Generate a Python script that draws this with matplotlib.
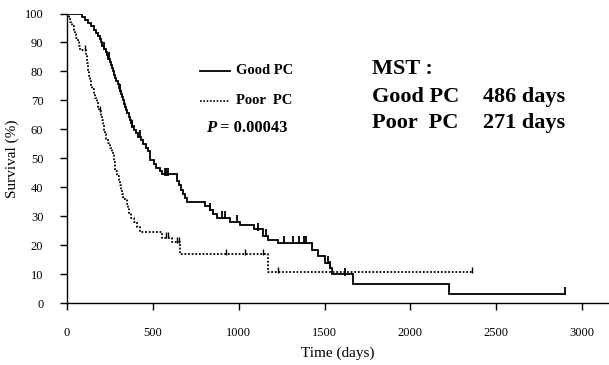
import numpy as np
import matplotlib
matplotlib.use("Agg")
import matplotlib.pyplot as plt
from matplotlib.lines import Line2D

plt.rcParams['font.family'] = ['Liberation Serif', 'DejaVu Serif']

# ---- data ----
good_t = [0, 88, 105, 120, 140, 160, 170, 180, 190, 200, 205, 215, 225, 232, 240, 248, 255,
          262, 268, 275, 282, 288, 295, 300, 308, 315, 320, 327, 333, 340, 346, 352, 360,
          366, 372, 380, 392, 404, 416, 430, 445, 460, 472, 486, 505, 520, 540, 555,
          640, 650, 662, 676, 690, 700, 805, 833, 850, 874, 949, 1010, 1090, 1141, 1170,
          1229, 1427, 1462, 1503, 1532, 1543, 1666, 2225, 2900]
good_s = [100, 98.9, 97.8, 96.7, 95.6, 94.4, 93.3, 92.2, 91.1, 90.0, 88.9, 87.8, 86.7, 85.6,
          84.4, 83.3, 82.2, 81.1, 80.0, 78.9, 77.8, 76.7, 75.6, 74.4, 73.3, 72.2, 71.1, 70.0,
          68.9, 67.8, 66.7, 65.6, 64.4, 63.3, 62.2, 61.0, 59.8, 58.6, 57.4, 56.2, 55.0, 53.7,
          52.5, 49.4, 48.1, 46.8, 45.5, 44.4, 42.0, 40.6, 39.2, 37.8, 36.4, 35.0, 33.6, 32.2,
          30.8, 29.4, 28.0, 26.9, 25.5, 23.2, 21.9, 20.8, 18.4, 16.3, 13.9, 12.2, 9.9, 6.5,
          3.2, 3.2]
good_cens = [215, 245, 308, 380, 425, 570, 578, 586, 833, 902, 920, 990, 1112, 1159, 1264,
             1316, 1351, 1380, 1392, 1520, 1532, 1619, 2900]

poor_t = [0, 10, 20, 30, 40, 47, 55, 62, 70, 76, 112, 116, 118, 120, 124, 128, 132, 140, 146,
          155, 163, 172, 180, 186, 200, 205, 210, 215, 222, 230, 240, 250, 262, 271, 278, 280,
          290, 300, 309, 315, 320, 325, 349, 355, 361, 375, 390, 408, 425, 555, 610, 660,
          1170, 2360]
poor_s = [100, 98.6, 97.2, 95.8, 94.4, 93.0, 91.5, 90.1, 88.7, 87.3, 85.8, 84.3, 82.8, 81.3,
          79.8, 78.3, 76.8, 75.3, 73.8, 72.3, 70.8, 69.3, 67.8, 66.3, 64.7, 63.1, 61.5, 59.9,
          58.3, 56.7, 55.1, 53.5, 51.9, 48.7, 47.1, 45.5, 43.9, 42.3, 40.7, 39.1, 37.5, 35.9,
          34.3, 32.7, 31.1, 29.5, 27.9, 26.3, 24.5, 22.6, 21.0, 16.8, 10.6, 10.6]
poor_cens = [105, 192, 575, 590, 640, 650, 926, 1037, 1142, 1228, 2360]

x_ticks = [0, 500, 1000, 1500, 2000, 2500, 3000]
y_ticks = list(range(0, 101, 10))

# ---- figure ----
fig = plt.figure(figsize=(6.09, 3.65), dpi=100)
ax = fig.add_axes([67/609, 62/365, (609-67)/609, (303.5-14)/365])

ax.step(good_t, good_s, where='post', color='black', lw=1.3, solid_joinstyle='miter')
ax.step(poor_t, poor_s, where='post', color='black', lw=1.3, linestyle=(0, (1, 1)))

def surv_at(ts, ss, t):
    idx = np.searchsorted(ts, t, side='right') - 1
    return ss[idx]

gy = [surv_at(good_t, good_s, t) for t in good_cens]
py = [surv_at(poor_t, poor_s, t) for t in poor_cens]
ax.plot(good_cens, np.array(gy) + 0.9, linestyle='none', marker='|', ms=6, mew=1.3, color='black')
ax.plot(poor_cens, np.array(py) + 0.8, linestyle='none', marker='|', ms=4.5, mew=1.0, color='black')

ax.set_xlim(0, 3157)
ax.set_ylim(0, 100)
ax.set_xticks(x_ticks)
ax.set_yticks(y_ticks)
for s in ['top', 'right']:
    ax.spines[s].set_visible(False)
for s in ['left', 'bottom']:
    ax.spines[s].set_linewidth(1.0)
ax.tick_params(axis='x', direction='out', length=5, width=1, pad=12, labelsize=9)
ax.tick_params(axis='y', direction='out', length=5, width=1, pad=12, labelsize=9)

ax.set_xlabel('Time (days)', fontsize=11, labelpad=6)
ax.set_ylabel('Survival (%)', fontsize=11, labelpad=4)

# legend (manual)
fig.add_artist(Line2D([200/609, 230/609], [1-71/365, 1-71/365], color='black', lw=1.3))
fig.add_artist(Line2D([200/609, 230/609], [1-101/365, 1-101/365], color='black', lw=1.2,
                      linestyle=(0, (1, 1))))
fig.text(236/609, 1-70/365, 'Good PC', fontsize=10.5, fontweight='bold', va='center')
fig.text(236/609, 1-100/365, 'Poor  PC', fontsize=10.5, fontweight='bold', va='center')
fig.text(206/609, 1-128/365, 'P', fontsize=12, fontweight='bold', style='italic', va='center')
fig.text(220/609, 1-128/365, '= 0.00043', fontsize=12, fontweight='bold', va='center')

fig.text(372/609, 1-69/365, 'MST :', fontsize=16, fontweight='bold', va='center')
fig.text(372/609, 1-97/365, 'Good PC', fontsize=16, fontweight='bold', va='center')
fig.text(483/609, 1-97/365, '486 days', fontsize=16, fontweight='bold', va='center')
fig.text(372/609, 1-123/365, 'Poor  PC', fontsize=16, fontweight='bold', va='center')
fig.text(483/609, 1-123/365, '271 days', fontsize=16, fontweight='bold', va='center')

fig.savefig('out.png', dpi=100)
